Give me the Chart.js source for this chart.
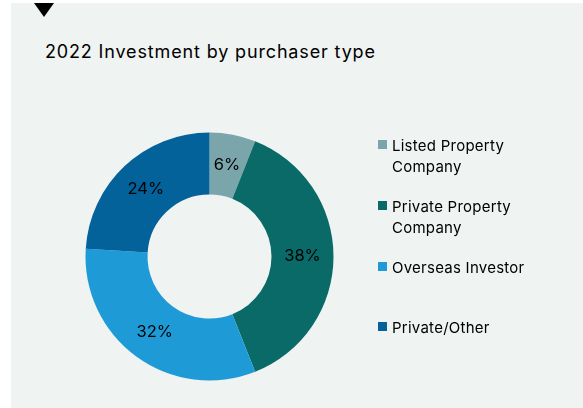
<!DOCTYPE html>
<html>
<head>
<meta charset="utf-8">
<script src="https://cdn.jsdelivr.net/npm/chart.js@4"></script>
<style>
  html, body { margin: 0; padding: 0; background: #ffffff; width: 583px; height: 408px; overflow: hidden; }
  #panel { position: absolute; left: 11px; top: 3px; width: 572px; height: 405px; background: #eff3f1; }
  #tri { position: absolute; left: 34px; top: 3px; width: 0; height: 0;
         border-left: 10px solid transparent; border-right: 10px solid transparent; border-top: 14px solid #000; }
  #title { position: absolute; left: 45px; top: 40px; font-family: Inter, "Noto Sans", sans-serif; font-size: 18px;
           font-weight: 400; letter-spacing: 0.85px; color: #000; white-space: nowrap; line-height: 24px; }
  #chart { position: absolute; left: 0; top: 0; }
  #legend { position: absolute; left: 378px; top: 0; font-family: Inter, "Noto Sans", sans-serif; font-size: 15px;
            font-weight: 400; letter-spacing: 0.25px; color: #000; }
  .item { position: absolute; left: 0; white-space: nowrap; }
  .sw { position: absolute; left: 0; width: 9px; height: 9px; top: 5px; }
  .txt { position: absolute; left: 14px; top: 0; line-height: 21px; }
</style>
</head>
<body>
<div id="panel"></div>
<div id="tri"></div>
<div id="title">2022 Investment by purchaser type</div>
<canvas id="chart" width="583" height="408"></canvas>
<div id="legend"></div>
<script>
const categories = ["Listed Property Company", "Private Property Company", "Overseas Investor", "Private/Other"];
const legendLines = [["Listed Property", "Company"], ["Private Property", "Company"], ["Overseas Investor"], ["Private/Other"]];
const values = [6, 38, 32, 24];
const colors = ["#7aa6ab", "#0a6a68", "#1e9bd7", "#04629b"];

// HTML legend
const legendTops = [135, 196, 257, 317];
const legend = document.getElementById('legend');
categories.forEach((c, i) => {
  const it = document.createElement('div');
  it.className = 'item';
  it.style.top = legendTops[i] + 'px';
  const sw = document.createElement('div');
  sw.className = 'sw';
  sw.style.background = colors[i];
  const tx = document.createElement('div');
  tx.className = 'txt';
  tx.innerHTML = legendLines[i].join('<br>');
  it.appendChild(sw); it.appendChild(tx);
  legend.appendChild(it);
});

const labelPlugin = {
  id: 'sliceLabels',
  afterDatasetsDraw(chart) {
    const ctx = chart.ctx;
    const meta = chart.getDatasetMeta(0);
    ctx.save();
    ctx.font = '400 16.5px Inter, "Noto Sans", sans-serif';
    ctx.fillStyle = '#000';
    ctx.textAlign = 'center';
    ctx.textBaseline = 'middle';
    meta.data.forEach((arc, i) => {
      const p = arc.tooltipPosition();
      ctx.fillText(values[i] + '%', p.x, p.y);
    });
    ctx.restore();
  }
};

new Chart(document.getElementById('chart'), {
  type: 'doughnut',
  data: {
    labels: categories,
    datasets: [{
      data: values,
      backgroundColor: colors,
      borderWidth: 0,
      hoverOffset: 0
    }]
  },
  options: {
    responsive: false,
    animation: false,
    cutout: '50%',
    layout: { padding: { left: 85.5, top: 132.5, right: 249.5, bottom: 27.5 } },
    plugins: {
      legend: { display: false },
      tooltip: { enabled: false },
      title: { display: false }
    }
  },
  plugins: [labelPlugin]
});
</script>
</body>
</html>
